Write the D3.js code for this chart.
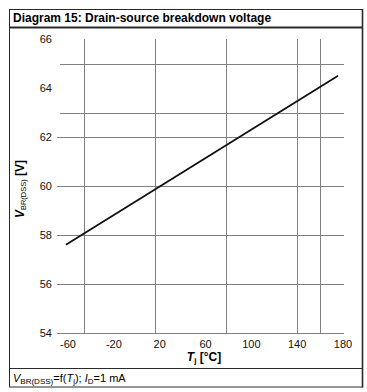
<!DOCTYPE html>
<html><head><meta charset="utf-8">
<script src="https://cdn.jsdelivr.net/npm/d3@7"></script>
<style>
html,body{margin:0;padding:0;background:#fff;}
text{font-family:"Liberation Sans",Arial,sans-serif;}
</style></head>
<body>
<svg id="c" width="367" height="392"></svg>
<script>
// ---- data ----
const lineTemps = [-55, 175];          // Tj [°C]
const lineVolts = [57.6, 64.5];        // V(BR)DSS [V]
const xTickLabels = [-60, -20, 20, 60, 100, 140, 180];
const yTickLabels = [54, 56, 58, 60, 62, 64, 66];
const xGridValues = [-40, 20, 80, 140, 160];
const yGridValues = [54, 56, 58, 60, 62, 63, 65];
const yTickMarks = [54, 56, 58, 60, 62];

const svg = d3.select("#c");
const L = 60, R = 344, T = 39, B = 333;
const x = d3.scaleLinear().domain([-60, 180]).range([L, R]);
const xLab = d3.scaleLinear().domain([-60, 180]).range([68, 343]);
const y = d3.scaleLinear().domain([54, 66]).range([B, T]);

// frame
const frame = svg.append("g").attr("stroke", "#2a2a2a").attr("fill", "none");
frame.append("rect").attr("x", 9.5).attr("y", 9.5).attr("width", 353).attr("height", 377.5).attr("stroke-width", 1);
frame.append("line").attr("x1", 9).attr("x2", 363).attr("y1", 27.5).attr("y2", 27.5).attr("stroke-width", 2);
frame.append("line").attr("x1", 9).attr("x2", 363).attr("y1", 368.5).attr("y2", 368.5).attr("stroke-width", 1);
frame.append("line").attr("x1", 362.5).attr("x2", 362.5).attr("y1", 9).attr("y2", 387.5).attr("stroke-width", 1.6);

svg.append("text").attr("x", 13).attr("y", 22).attr("font-size", 12).attr("font-weight", "bold")
  .text("Diagram 15: Drain-source breakdown voltage");

// grid
const grid = svg.append("g").attr("stroke", "#808080").attr("stroke-width", 1);
grid.selectAll("line.v").data(xGridValues).join("line")
  .attr("x1", d => Math.round(x(d)) + 0.5).attr("x2", d => Math.round(x(d)) + 0.5)
  .attr("y1", T).attr("y2", B);
grid.selectAll("line.h").data(yGridValues).join("line")
  .attr("y1", d => Math.round(y(d)) + 0.5).attr("y2", d => Math.round(y(d)) + 0.5)
  .attr("x1", d => yTickMarks.includes(d) ? 57 : L).attr("x2", R);

// tick labels
svg.append("g").selectAll("text").data(yTickLabels).join("text")
  .attr("x", 52).attr("y", d => y(d) + 4).attr("text-anchor", "end").attr("font-size", 11)
  .attr("fill", "#111").text(d => d);
svg.append("g").selectAll("text").data(xTickLabels).join("text")
  .attr("x", d => xLab(d)).attr("y", B + 15).attr("text-anchor", "middle").attr("font-size", 11)
  .attr("fill", "#111").text(d => d);

// curve
const data = lineTemps.map((t, i) => [t, lineVolts[i]]);
svg.append("path").datum(data)
  .attr("d", d3.line().x(d => x(d[0])).y(d => y(d[1])))
  .attr("fill", "none").attr("stroke", "#111").attr("stroke-width", 1.8);

// axis titles
const xt = svg.append("text").attr("x", 204).attr("y", 361).attr("text-anchor", "middle")
  .attr("font-size", 12).attr("font-weight", "bold");
xt.append("tspan").attr("font-style", "italic").text("T");
xt.append("tspan").attr("font-size", 8).attr("dy", 2).text("j");
xt.append("tspan").attr("dy", -2).text(" [°C]");

const yt = svg.append("text").attr("transform", "translate(24,189) rotate(-90)").attr("text-anchor", "middle")
  .attr("font-size", 12).attr("font-weight", "bold");
yt.append("tspan").attr("font-style", "italic").text("V");
yt.append("tspan").attr("font-size", 7.5).attr("font-weight", "normal").attr("dy", 2).text("BR(DSS)");
yt.append("tspan").attr("dy", -2).text(" [V]");

// footer
const ft = svg.append("text").attr("x", 13).attr("y", 382).attr("font-size", 11);
ft.append("tspan").attr("font-style", "italic").text("V");
ft.append("tspan").attr("font-size", 8).attr("dy", 2).text("BR(DSS)");
ft.append("tspan").attr("dy", -2).text("=f(");
ft.append("tspan").attr("font-style", "italic").text("T");
ft.append("tspan").attr("font-size", 8).attr("dy", 2).text("j");
ft.append("tspan").attr("dy", -2).text("); ");
ft.append("tspan").attr("font-style", "italic").text("I");
ft.append("tspan").attr("font-size", 8).attr("dy", 2).text("D");
ft.append("tspan").attr("dy", -2).text("=1 mA");
</script>
</body></html>
